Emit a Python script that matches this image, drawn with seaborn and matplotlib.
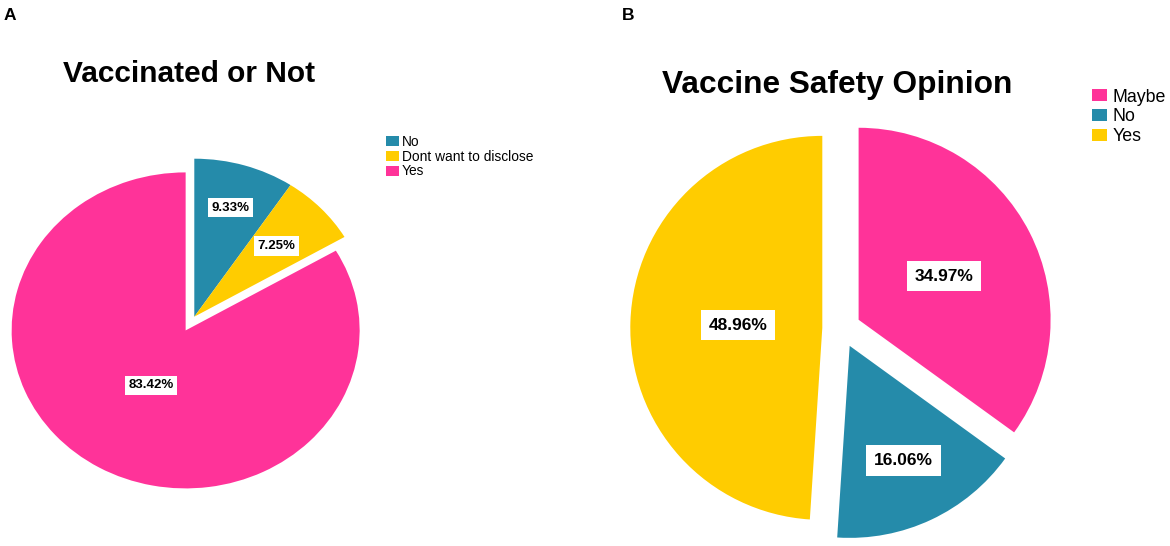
import numpy as np
import matplotlib
matplotlib.use("Agg")
import matplotlib.pyplot as plt
import seaborn as sns

# Data
vacc_labels = ["No", "Dont want to disclose", "Yes"]
vacc_pct = [9.33, 7.25, 83.42]
vacc_explode = [0, 0, 0.1]

safety_labels = ["Maybe", "No", "Yes"]
safety_pct = [34.97, 16.06, 48.96]
safety_explode = [0.1, 0.1, 0.1]

pink = "#FF3399"
blue = "#258BAA"
yellow = "#FFCC00"
vacc_colors = sns.color_palette([blue, yellow, pink])
safety_colors = sns.color_palette([pink, blue, yellow])

sns.set_theme(style="white")
plt.rcParams['font.family'] = ['Liberation Sans', 'DejaVu Sans']
plt.rcParams['text.color'] = 'black'

W, H = 1170, 546
fig = plt.figure(figsize=(W / 100, H / 100), dpi=100)
fig.patch.set_facecolor("white")


def px_axes(cx, cy, rx, ry, xlim, ylim):
    # place an axes so that data (0, 0) sits at pixel (cx, cy)
    left = cx + xlim[0] * rx
    width = (xlim[1] - xlim[0]) * rx
    top = cy - ylim[1] * ry
    height = (ylim[1] - ylim[0]) * ry
    ax = fig.add_axes([left / W, 1 - (top + height) / H, width / W, height / H])
    return ax


pct_font = dict(family=['Liberation Sans', 'DejaVu Sans'], weight='bold', color='black')


def draw_pie(ax, values, colors, explode, label_r, fsize, pad, xlim, ylim):
    wedges, texts, autotexts = ax.pie(
        values, colors=colors, explode=explode, startangle=90, counterclock=False,
        autopct=lambda p: f"{p:.2f}%", pctdistance=0.6,
        wedgeprops=dict(linewidth=0), textprops=dict(fontsize=fsize, **pct_font))
    # SPSS-style label spots: each label sits at its own fraction of the radius
    for w, t, r in zip(wedges, autotexts, label_r):
        ang = np.deg2rad((w.theta1 + w.theta2) / 2)
        t.set_position((w.center[0] + r * np.cos(ang), w.center[1] + r * np.sin(ang)))
        t.set_bbox(dict(boxstyle=f'square,pad={pad}', fc='white', ec='none'))
    ax.set_aspect('auto')
    ax.set_xlim(*xlim)
    ax.set_ylim(*ylim)
    ax.axis('off')
    return wedges


# Panel A
axA = px_axes(194.3, 316.7, 174, 158, (-1.1, 1.1), (-1.2, 1.2))
wA = draw_pie(axA, vacc_pct, vacc_colors, vacc_explode, [0.72, 0.65, 0.4], 9.5, 0.28,
              (-1.1, 1.1), (-1.2, 1.2))

# Panel B
axB = px_axes(841.5, 328.5, 192, 192, (-1.2, 1.2), (-1.12, 1.2))
wB = draw_pie(axB, safety_pct, safety_colors, safety_explode, [0.5, 0.66, 0.44], 12.5, 0.45,
              (-1.2, 1.2), (-1.12, 1.2))

# Titles and panel letters
fig.text(189 / W, 1 - 81.7 / H, "Vaccinated or Not", ha='center', va='baseline',
         fontsize=21.5, fontweight='bold')
fig.text(837 / W, 1 - 93.3 / H, "Vaccine Safety Opinion", ha='center', va='baseline',
         fontsize=22.8, fontweight='bold')
fig.text(4 / W, 1 - 20 / H, "A", ha='left', va='baseline', fontsize=12.5, fontweight='bold')
fig.text(621.7 / W, 1 - 20 / H, "B", ha='left', va='baseline', fontsize=12.5, fontweight='bold')

# Legends
fig.legend(wA, vacc_labels, loc='upper left', bbox_to_anchor=(385.7 / W, 1 - 135 / H),
           frameon=False, fontsize=9.9, handlelength=0.95, handleheight=0.73,
           handletextpad=0.22, labelspacing=0.05, borderpad=0, borderaxespad=0)
fig.legend(wB, safety_labels, loc='upper left', bbox_to_anchor=(1092 / W, 1 - 88.5 / H),
           frameon=False, fontsize=12.8, handlelength=0.85, handleheight=0.68,
           handletextpad=0.28, labelspacing=0.16, borderpad=0, borderaxespad=0)

fig.savefig("out.png", dpi=100, facecolor="white")
